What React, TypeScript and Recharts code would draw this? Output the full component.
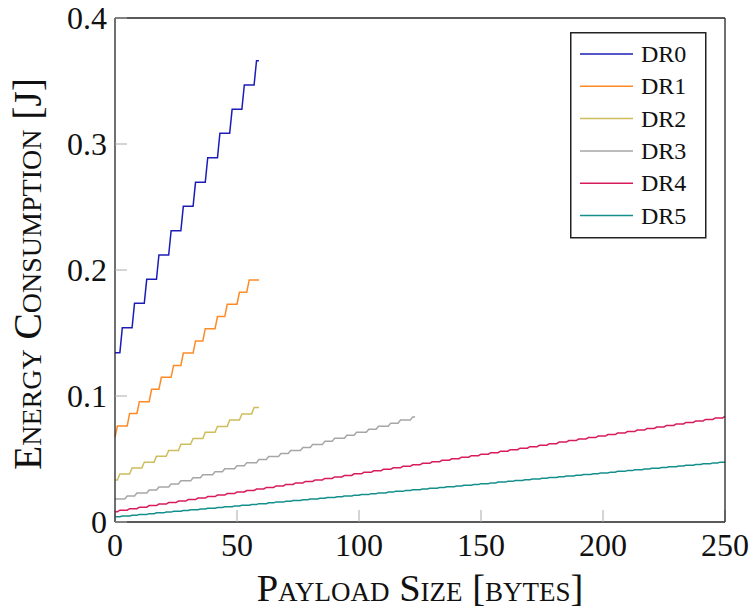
import React from 'react';
import { LineChart, Line, XAxis, YAxis, Legend, Label } from 'recharts';

// step positions (byte where the riser starts) and energy levels [J]
const dr0Risers = [2, 7, 12, 17, 22, 27, 32, 37, 42, 47, 52, 57];
const dr0Levels = [0.1344, 0.1542, 0.1736, 0.1926, 0.2119, 0.2312, 0.2505, 0.2696, 0.2891, 0.3085, 0.3275, 0.3468, 0.3661];

const dr1Risers = [0, 5, 9, 14, 18, 23, 27, 32, 36, 41, 45, 50, 54];
const dr1Levels = [0.0675, 0.0762, 0.0862, 0.0955, 0.1053, 0.1148, 0.1243, 0.1341, 0.1437, 0.1534, 0.163, 0.1728, 0.1823, 0.1921];

const dr2Risers = [1, 6, 11, 16, 21, 26, 31, 36, 41, 46, 51, 56];
const dr2Levels = [0.0333, 0.0381, 0.0428, 0.0475, 0.0521, 0.0568, 0.0617, 0.0663, 0.0712, 0.0758, 0.081, 0.0857, 0.0908];

const dr3Risers = [4, 8, 13, 17, 22, 26, 31, 35, 40, 44, 49, 53, 58, 62, 67, 71, 76, 80, 85, 89, 94, 98, 103, 107, 112, 116, 121];
const dr3Levels = [
  0.0182, 0.02061, 0.02302, 0.02543, 0.02784, 0.03025, 0.03266, 0.03507, 0.03748, 0.03989,
  0.0423, 0.04471, 0.04712, 0.04953, 0.05194, 0.05435, 0.05676, 0.05917, 0.06158, 0.06399,
  0.0664, 0.06881, 0.07122, 0.07363, 0.07604, 0.07845, 0.08086, 0.08327,
];

const dr4Risers = [
  1, 5, 9, 13, 17, 21, 25, 29, 33, 37, 41, 45, 49, 53, 57, 61, 65, 69, 73, 77, 81, 85, 89, 93, 97,
  101, 105, 109, 113, 117, 121, 125, 129, 133, 137, 141, 145, 149, 153, 157, 161, 165, 169, 173, 177,
  181, 185, 189, 193, 197, 201, 205, 209, 213, 217, 221, 225, 229, 233, 237, 241, 245, 249,
];
const dr4Levels = [
  0.0082, 0.0094, 0.0106, 0.0118, 0.013, 0.0142, 0.0154, 0.0166, 0.0178, 0.019,
  0.0202, 0.0214, 0.0226, 0.0238, 0.025, 0.0262, 0.0274, 0.0286, 0.0298, 0.031,
  0.0322, 0.0334, 0.0346, 0.0358, 0.037, 0.0382, 0.0394, 0.0406, 0.0418, 0.043,
  0.0442, 0.0454, 0.0466, 0.0478, 0.049, 0.0502, 0.0514, 0.0526, 0.0538, 0.055,
  0.0562, 0.0574, 0.0586, 0.0598, 0.061, 0.0622, 0.0634, 0.0646, 0.0658, 0.067,
  0.0682, 0.0694, 0.0706, 0.0718, 0.073, 0.0742, 0.0754, 0.0766, 0.0778, 0.079,
  0.0802, 0.0814, 0.0826, 0.0838,
];

const dr5Risers = [
  2, 6, 9, 13, 16, 20, 23, 27, 30, 34, 37, 41, 44, 48, 51, 55, 58, 62, 65, 69, 72, 76, 79, 83, 86,
  90, 93, 97, 100, 104, 107, 111, 114, 118, 121, 125, 128, 132, 135, 139, 142, 146, 149, 153, 156,
  160, 163, 167, 170, 174, 177, 181, 184, 188, 191, 195, 198, 202, 205, 209, 212, 216, 219, 223,
  226, 230, 233, 237, 240, 244, 247,
];
const dr5Levels = [
  0.0042, 0.00481, 0.00542, 0.00603, 0.00664, 0.00725, 0.00786, 0.00847, 0.00908, 0.00969,
  0.0103, 0.01091, 0.01152, 0.01213, 0.01274, 0.01335, 0.01396, 0.01457, 0.01518, 0.01579,
  0.0164, 0.01701, 0.01762, 0.01823, 0.01884, 0.01945, 0.02006, 0.02067, 0.02128, 0.02189,
  0.0225, 0.02311, 0.02372, 0.02433, 0.02494, 0.02555, 0.02616, 0.02677, 0.02738, 0.02799,
  0.0286, 0.02921, 0.02982, 0.03043, 0.03104, 0.03165, 0.03226, 0.03287, 0.03348, 0.03409,
  0.0347, 0.03531, 0.03592, 0.03653, 0.03714, 0.03775, 0.03836, 0.03897, 0.03958, 0.04019,
  0.0408, 0.04141, 0.04202, 0.04263, 0.04324, 0.04385, 0.04446, 0.04507, 0.04568, 0.04629,
  0.0469, 0.04751,
];

// max payload per data rate
const maxPayload = [59, 59, 59, 123, 250, 250];

const xTicks = [0, 50, 100, 150, 200, 250];
const yTicks = [0, 0.1, 0.2, 0.3, 0.4];

const FONT = '"Liberation Serif", "DejaVu Serif", serif';

const buildSteps = (risers: number[], levels: number[], end: number) => {
  const pts = [{ x: 0, y: levels[0] }];
  risers.forEach((r, i) => {
    if (r > 0) pts.push({ x: r, y: levels[i] });
    pts.push({ x: r + 1, y: levels[i + 1] });
  });
  if (pts[pts.length - 1].x < end) pts.push({ x: end, y: levels[levels.length - 1] });
  return pts;
};

const series = [
  { name: 'DR0', color: '#1c1cb8', data: buildSteps(dr0Risers, dr0Levels, maxPayload[0]) },
  { name: 'DR1', color: '#ff8a24', data: buildSteps(dr1Risers, dr1Levels, maxPayload[1]) },
  { name: 'DR2', color: '#cdbd5c', data: buildSteps(dr2Risers, dr2Levels, maxPayload[2]) },
  { name: 'DR3', color: '#a6a6a6', data: buildSteps(dr3Risers, dr3Levels, maxPayload[3]) },
  { name: 'DR4', color: '#d81b5a', data: buildSteps(dr4Risers, dr4Levels, maxPayload[4]) },
  { name: 'DR5', color: '#14908c', data: buildSteps(dr5Risers, dr5Levels, maxPayload[5]) },
];

const renderLegend = () => (
  <svg width={137} height={207} style={{ display: 'block' }}>
    <rect x={0.75} y={0.75} width={135} height={205} fill="#fff" stroke="#222" strokeWidth={1.5} />
    {series.map((s, i) => {
      const cy = 22 + i * 32.3;
      return (
        <g key={s.name}>
          <line x1={10} x2={63} y1={cy} y2={cy} stroke={s.color} strokeWidth={1.5} />
          <text x={71} y={cy + 8} fontSize={24} fontFamily={FONT} style={{ fontFamily: FONT }} fill="#111">
            {s.name}
          </text>
        </g>
      );
    })}
  </svg>
);

const axisLine = { stroke: '#222', strokeWidth: 1.3 };
const tickLine = { stroke: '#aaa', strokeWidth: 1 };
const tickFont = { fontSize: 32, fontFamily: FONT, fill: '#111', style: { fontFamily: FONT } };

const App: React.FC = () => {
  return (
    <div style={{ position: 'absolute', left: 0, top: 0, width: 750, height: 612, background: '#fff' }}>
      <LineChart width={750} height={612} margin={{ top: 17, right: 24, bottom: 50, left: 55 }}>
        <XAxis
          dataKey="x"
          type="number"
          domain={[0, 250]}
          ticks={xTicks}
          height={40}
          axisLine={axisLine}
          tickLine={tickLine}
          tickSize={-12}
          tickMargin={23}
          tick={tickFont}
          interval={0}
        >
          <Label
            content={() => (
              <text x={420} y={601} textAnchor="middle" fontSize={38.5} fontFamily={FONT} fill="#111" style={{ fontVariant: 'small-caps' }}>
                Payload Size [bytes]
              </text>
            )}
          />
        </XAxis>
        <XAxis
          xAxisId="top"
          orientation="top"
          dataKey="x"
          type="number"
          domain={[0, 250]}
          ticks={xTicks}
          height={1}
          axisLine={axisLine}
          tickLine={tickLine}
          tickSize={-12}
          tick={() => <g />}
          interval={0}
        />
        <YAxis
          type="number"
          domain={[0, 0.4]}
          ticks={yTicks}
          width={60}
          axisLine={axisLine}
          tickLine={tickLine}
          tickSize={-12}
          tickMargin={20}
          tick={tickFont}
          interval={0}
          tickFormatter={(v: number) => (v === 0 ? '0' : v.toFixed(1))}
        >
          <Label
            content={() => (
              <text
                x={41}
                y={274}
                transform="rotate(-90 41 274)"
                textAnchor="middle"
                fontSize={39.5}
                fontFamily={FONT}
                fill="#111"
                style={{ fontVariant: 'small-caps' }}
              >
                Energy Consumption [J]
              </text>
            )}
          />
        </YAxis>
        <YAxis
          yAxisId="right"
          orientation="right"
          type="number"
          domain={[0, 0.4]}
          ticks={yTicks}
          width={1}
          axisLine={axisLine}
          tickLine={tickLine}
          tickSize={-12}
          tick={() => <g />}
          interval={0}
        />
        <Legend
          layout="vertical"
          align="center"
          verticalAlign="middle"
          content={renderLegend}
          wrapperStyle={{ left: 570, top: 32, width: 137, height: 207 }}
        />
        {series.map((s) => (
          <Line
            key={s.name}
            name={s.name}
            data={s.data}
            dataKey="y"
            type="linear"
            stroke={s.color}
            strokeWidth={1.5}
            dot={false}
            activeDot={false}
            isAnimationActive={false}
          />
        ))}
      </LineChart>
    </div>
  );
};

export default App;
